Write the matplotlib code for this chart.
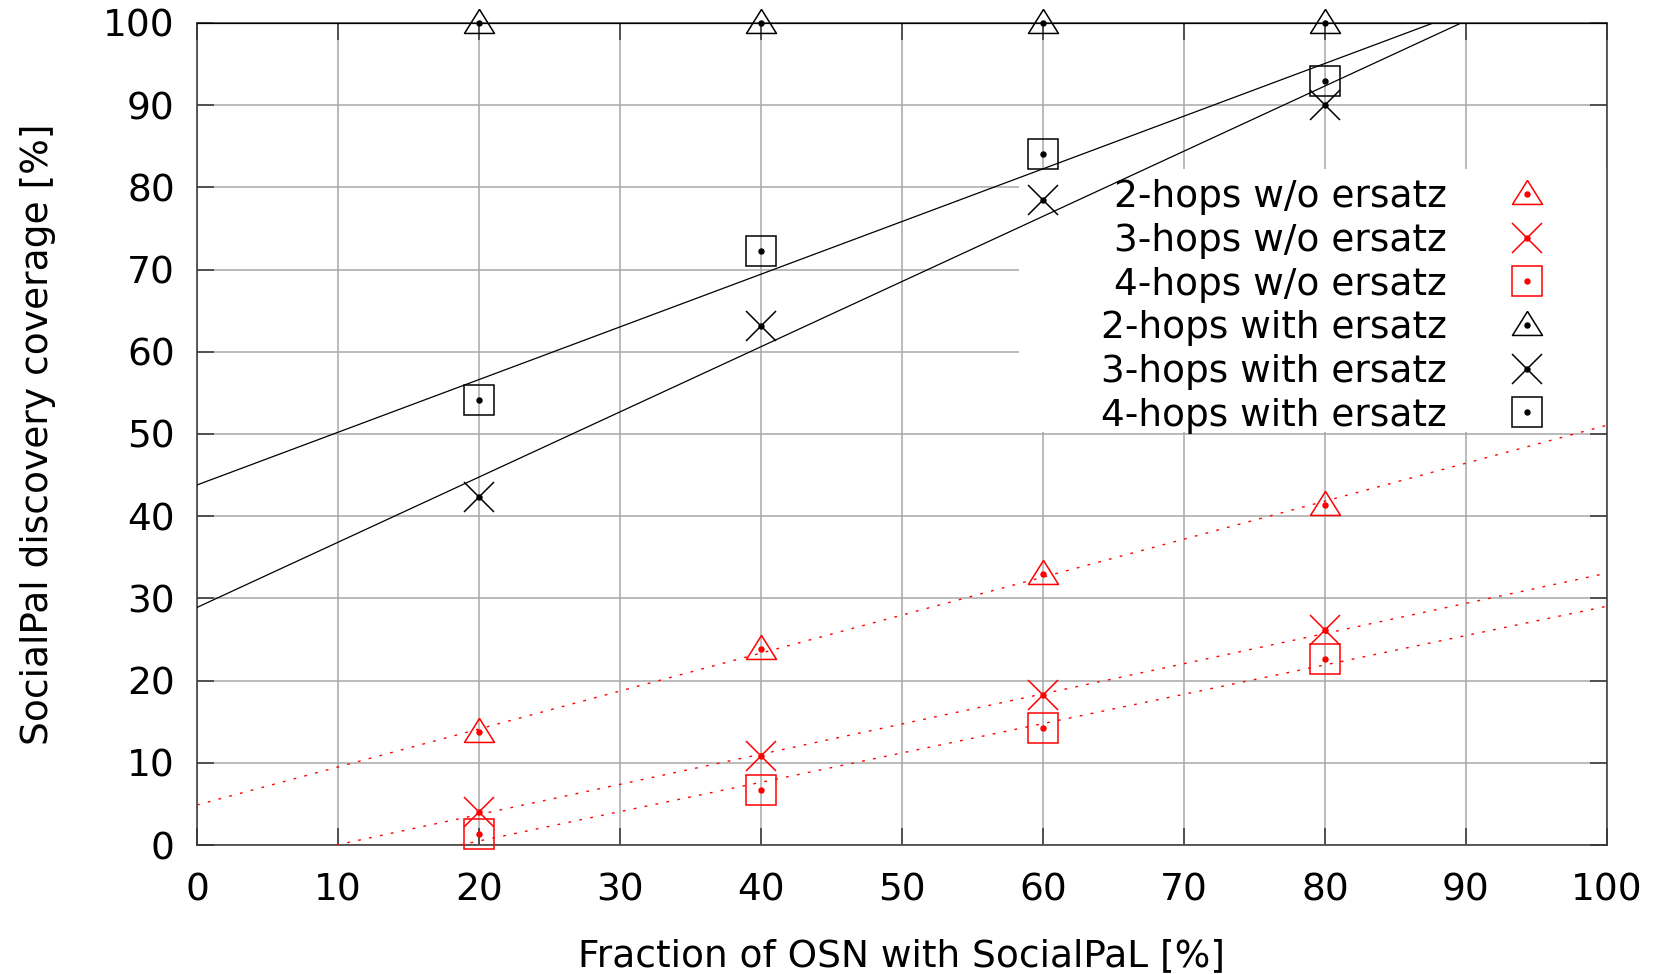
import matplotlib
matplotlib.use('Agg')
import matplotlib.pyplot as plt
from matplotlib.patches import Rectangle

# fraction of OSN with SocialPaL [%]
fractions = [20, 40, 60, 80]

# coverage [%]
two_hops_wo = [13.8, 23.9, 33.0, 41.4]
three_hops_wo = [4.0, 10.8, 18.3, 26.2]
four_hops_wo = [1.3, 6.7, 14.2, 22.6]
two_hops_with = [100, 100, 100, 100]
three_hops_with = [42.3, 63.1, 78.5, 90.0]
four_hops_with = [54.1, 72.3, 84.1, 92.9]

# fitted lines (intercept, slope) as drawn in the picture
fit_wo = [(4.87, 0.462), (-3.63, 0.367), (-6.65, 0.357)]
fit_with = [(100.0, 0.0), (28.9, 0.793), (43.8, 0.641)]

labels = ['2-hops w/o ersatz', '3-hops w/o ersatz', '4-hops w/o ersatz',
          '2-hops with ersatz', '3-hops with ersatz', '4-hops with ersatz']

plt.rcParams['font.family'] = ['DejaVu Sans']
FS = 27

tri = [(0, 1.17), (-1.25, -0.83), (1.25, -0.83), (0, 1.17)]
marks = [tri, 'x', 's']

fig = plt.figure(figsize=(16.61, 9.74), dpi=100, facecolor='white')
ax = fig.add_axes([197/1661, 1-845/974, 1410/1661, 822/974])

handles = []
series = [(two_hops_wo, 'red'), (three_hops_wo, 'red'), (four_hops_wo, 'red'),
          (two_hops_with, 'black'), (three_hops_with, 'black'), (four_hops_with, 'black')]
for i, (vals, col) in enumerate(series):
    m = marks[i % 3]
    ms = 21.6 if m != 's' else 21.0
    h1, = ax.plot(fractions, vals, linestyle='none', marker=m, markersize=ms,
                  markerfacecolor='none', markeredgecolor=col, markeredgewidth=1.1,
                  clip_on=False, zorder=4)
    h2, = ax.plot(fractions, vals, linestyle='none', marker='o', markersize=3.6,
                  color=col, clip_on=False, zorder=4)
    handles.append((h1, h2))

for b, s in fit_wo:
    ax.axline((0, b), slope=s, color='red', lw=1.0, linestyle=(0, (2, 6)), zorder=3)
for b, s in fit_with:
    ax.axline((0, b), slope=s, color='black', lw=0.9, zorder=3)

ax.set_xlim(0, 100)
ax.set_ylim(0, 100)
ax.set_xticks(range(0, 101, 10))
ax.set_yticks(range(0, 101, 10))
ax.grid(True, color='#a8a8a8', lw=1.1, zorder=0)
ax.set_axisbelow(True)
ax.tick_params(direction='in', length=12, width=1.1, color='#333333',
               top=True, right=True, labelsize=FS, pad=16)
ax.tick_params(axis='x', pad=20)
for sp in ax.spines.values():
    sp.set_color('#333333')
    sp.set_linewidth(1.1)

ax.set_xlabel('Fraction of OSN with SocialPaL [%]', fontsize=FS)
ax.set_ylabel('SocialPal discovery coverage [%]', fontsize=FS)
ax.xaxis.set_label_coords(0.5, -0.113)
ax.yaxis.set_label_coords(-0.100, 0.5)

# white legend background that hides the grid only
ax.add_patch(Rectangle((0.583, 0.502), 0.417, 0.32, transform=ax.transAxes,
                       facecolor='white', edgecolor='none', zorder=1))

leg = ax.legend(handles, labels, loc='upper right', bbox_to_anchor=(0.9688, 0.810),
                frameon=False, markerfirst=False, fontsize=FS, numpoints=1,
                borderpad=0, borderaxespad=0, labelspacing=0.205,
                handlelength=1.9, handletextpad=1.2)
leg.set_zorder(2)

fig.savefig('out.png', dpi=100)
